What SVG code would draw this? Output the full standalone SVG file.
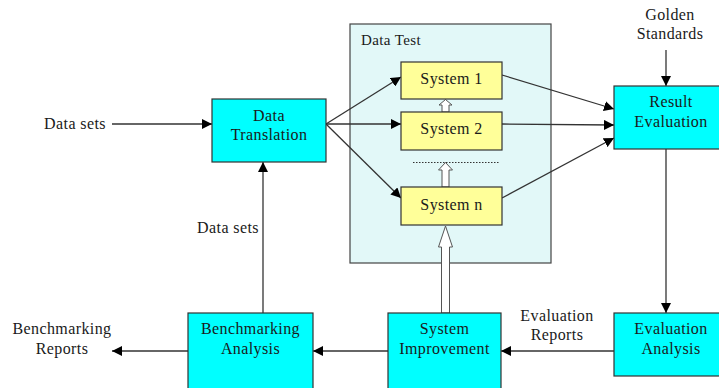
<svg xmlns="http://www.w3.org/2000/svg" width="719" height="388" viewBox="0 0 719 388">
<style>
text{font-family:"Liberation Serif","Times New Roman",serif;font-size:16px;fill:#1a1a1a;text-anchor:middle;letter-spacing:0.4px}
.box{fill:#00ffff;stroke:#333;stroke-width:1.2}
.sys{fill:#ffff99;stroke:#333;stroke-width:1.2}
.ln{stroke:#333;stroke-width:1.3;fill:none;marker-end:url(#ah)}
.hol{fill:#fff;stroke:#555;stroke-width:1}
</style>
<defs>
<marker id="ah" viewBox="0 0 10 10" refX="10" refY="5" markerWidth="10" markerHeight="10" markerUnits="userSpaceOnUse" orient="auto">
<path d="M0,0 L10,5 L0,10 z" fill="#000"/>
</marker>
</defs>
<rect x="0" y="0" width="719" height="388" fill="#fff"/>
<g id="datatest">
<rect x="350" y="24" width="201" height="239" fill="#e2f8f8" stroke="#444" stroke-width="1.2"/>
<text x="361" y="45" style="text-anchor:start;font-size:15px">Data Test</text>
<line x1="413" y1="162.5" x2="500" y2="162.5" stroke="#333" stroke-width="1" stroke-dasharray="1.5,1.5"/>
</g>
<g id="connectors">
<line class="ln" x1="112" y1="124" x2="212" y2="124"/>
<line class="ln" x1="326" y1="124" x2="401" y2="77"/>
<line class="ln" x1="326" y1="124" x2="401" y2="124"/>
<line class="ln" x1="326" y1="124" x2="401" y2="198"/>
<line class="ln" x1="502" y1="75" x2="614" y2="109"/>
<line class="ln" x1="502" y1="124" x2="614" y2="125"/>
<line class="ln" x1="502" y1="198" x2="614" y2="138"/>
<line class="ln" x1="666" y1="50" x2="666" y2="86"/>
<line class="ln" x1="666" y1="149" x2="666" y2="313"/>
<line class="ln" x1="614" y1="351" x2="501" y2="351"/>
<line class="ln" x1="388" y1="351" x2="313" y2="351"/>
<line class="ln" x1="188" y1="351" x2="112" y2="351"/>
<line class="ln" x1="263" y1="313" x2="263" y2="162"/>
<path class="hol" d="M441.5,313 L441.5,247 L438.5,247 L445.5,226 L452.5,247 L449.5,247 L449.5,313 z"/>
<path class="hol" d="M442,187 L442,170 L438.5,170 L445.5,162.5 L452.5,170 L449,170 L449,187 z"/>
<path class="hol" d="M442,112 L442,105 L439,105 L445.5,99.5 L452,105 L449,105 L449,112 z"/>
</g>
<g id="system1"><rect class="sys" x="401" y="62" width="101" height="37"/><text x="451.5" y="84">System 1</text></g>
<g id="system2"><rect class="sys" x="401" y="112" width="101" height="38"/><text x="451.5" y="134">System 2</text></g>
<g id="systemn"><rect class="sys" x="401" y="187" width="101" height="38"/><text x="451.5" y="210">System n</text></g>
<g id="datatranslation"><rect class="box" x="212" y="99" width="114" height="63"/><text x="269" y="121">Data</text><text x="269" y="140">Translation</text></g>
<g id="resultevaluation"><rect class="box" x="614" y="86" width="114" height="63"/><text x="671" y="107">Result</text><text x="671" y="127">Evaluation</text></g>
<g id="evaluationanalysis"><rect class="box" x="614" y="313" width="114" height="63"/><text x="671" y="334">Evaluation</text><text x="671" y="354">Analysis</text></g>
<g id="systemimprovement"><rect class="box" x="388" y="313" width="113" height="80"/><text x="444.5" y="334">System</text><text x="444.5" y="354">Improvement</text></g>
<g id="benchmarkinganalysis"><rect class="box" x="188" y="313" width="125" height="80"/><text x="250.5" y="334">Benchmarking</text><text x="250.5" y="354">Analysis</text></g>
<g id="labels">
<text x="75" y="129">Data sets</text>
<text x="228" y="233">Data sets</text>
<text x="670" y="20">Golden</text>
<text x="670" y="39">Standards</text>
<text x="557" y="321">Evaluation</text>
<text x="557" y="340">Reports</text>
<text x="62" y="334">Benchmarking</text>
<text x="62" y="354">Reports</text>
</g>
</svg>
